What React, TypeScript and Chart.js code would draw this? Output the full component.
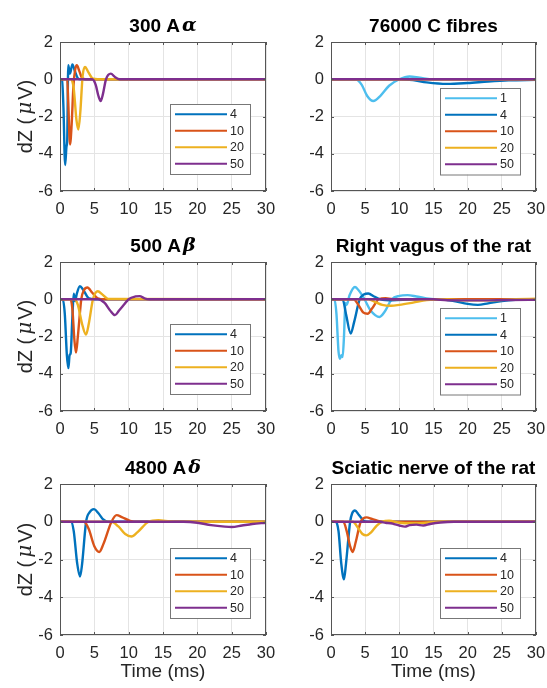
import React, { useEffect, useRef } from 'react';
import { Chart, registerables } from 'chart.js';

Chart.register(...registerables);

const FONT = '"Liberation Sans", Arial, Helvetica, sans-serif';
const BLUE = '#0072BD';
const ORANGE = '#D95319';
const YELLOW = '#EDB120';
const PURPLE = '#7E2F8E';
const LIGHTBLUE = '#4DBEEE';

const xTickValues = [0, 5, 10, 15, 20, 25, 30];
const yTickValues = [-6, -4, -2, 0, 2];
const X_MIN = 0, X_MAX = 30, Y_MIN = -6, Y_MAX = 2;

type Pt = [number, number];
const FLAT: Pt[] = [[0, 0], [30, 0]];

// 300 A-alpha
const alpha4: Pt[] = [[0, 0], [0.3, -0.05], [0.5, -1.5], [0.75, -4.6], [0.95, -3.6], [1.05, -3.3], [1.2, 0.75], [1.45, 0.3], [1.8, 0.8], [2.2, 0.4], [2.6, 0.05], [3, 0], [30, 0]];
const alpha10: Pt[] = [[0, 0], [1.05, 0], [1.2, -1.2], [1.46, -3.5], [1.7, -2.4], [1.95, -0.4], [2.2, 0.5], [2.45, 0.75], [2.8, 0.45], [3.2, 0.08], [3.7, 0], [30, 0]];
const alpha20: Pt[] = [[0, 0], [1.6, 0], [2.0, -0.5], [2.4, -2.2], [2.67, -2.7], [2.95, -1.8], [3.3, 0.2], [3.65, 0.66], [4.1, 0.4], [4.8, 0.03], [5.5, 0], [30, 0]];
const alpha50: Pt[] = [[0, 0], [4.7, 0], [5.2, -0.3], [5.6, -0.9], [5.92, -1.17], [6.25, -0.8], [6.7, 0], [7.4, 0.3], [8, 0.12], [8.7, 0], [30, 0]];

// 76000 C fibres
const cfib1: Pt[] = [[0, 0], [3.6, 0], [4.5, -0.3], [5.3, -0.9], [6.2, -1.17], [7.2, -0.9], [8.5, -0.35], [10, 0], [11.5, 0.15], [13, 0.08], [15, 0], [30, 0]];
const cfib4: Pt[] = [[0, 0], [10, 0], [12, -0.05], [14, -0.17], [17, -0.25], [20, -0.2], [23, -0.12], [26, -0.06], [30, -0.03]];
const cfib10: Pt[] = FLAT;
const cfib20: Pt[] = FLAT;
const cfib50: Pt[] = FLAT;

// 500 A-beta
const beta4: Pt[] = [[0, 0], [0.4, 0], [0.7, -0.8], [1.0, -3.0], [1.22, -3.7], [1.4, -3.0], [1.55, -2.9], [1.8, -1], [2.0, 0.3], [2.2, -0.1], [2.45, 0.3], [2.9, 0.7], [3.4, 0.5], [4.2, 0.05], [5, 0], [30, 0]];
const beta10: Pt[] = [[0, 0], [1.5, 0], [1.8, -0.5], [2.1, -2.2], [2.33, -2.86], [2.6, -2.0], [3.1, 0], [3.5, 0.5], [4.0, 0.63], [4.7, 0.35], [5.5, 0.05], [6.5, 0], [30, 0]];
const beta20: Pt[] = [[0, 0], [2.1, 0], [2.6, -0.3], [3.2, -1.3], [3.78, -1.9], [4.2, -1.3], [4.8, 0], [5.5, 0.43], [6.2, 0.25], [7, 0.02], [30, 0]];
const beta50: Pt[] = [[0, 0], [5.5, 0], [6.5, -0.2], [7.3, -0.6], [8.0, -0.85], [8.6, -0.6], [9.3, -0.3], [10, 0], [11, 0.15], [11.6, 0.17], [12.3, 0.05], [13, 0], [30, 0]];

// Right vagus of the rat
const vagus1: Pt[] = [[0, 0], [0.5, 0], [0.8, -0.8], [1.1, -2.8], [1.32, -3.2], [1.5, -3.0], [1.7, -3.1], [1.9, -2.0], [2.1, -0.2], [2.3, -0.3], [2.7, 0.2], [3.5, 0.66], [4.1, 0.45], [4.9, 0], [5.8, -0.6], [7.1, -0.95], [7.8, -0.7], [8.9, 0], [10, 0.18], [11.2, 0.22], [12.5, 0.15], [14, 0.05], [16, 0], [30, 0]];
const vagus4: Pt[] = [[0, 0], [1.7, 0], [2.2, -0.8], [2.88, -1.84], [3.4, -1.2], [4.2, 0], [4.8, 0.25], [5.46, 0.31], [6.3, 0.15], [7.2, 0], [9, -0.05], [12, 0], [16, 0], [18, -0.1], [20, -0.25], [21.5, -0.3], [23, -0.22], [25, -0.1], [27, -0.03], [30, 0]];
const vagus10: Pt[] = [[0, 0], [3.3, 0], [4.0, -0.3], [4.7, -0.7], [5.37, -0.78], [6.0, -0.5], [7.0, 0], [8, 0.05], [9, 0], [30, 0]];
const vagus20: Pt[] = [[0, 0], [5.5, 0], [6.5, -0.15], [7.5, -0.3], [8.8, -0.35], [10, -0.3], [12, -0.18], [14, -0.05], [16, 0], [20, -0.05], [24, -0.05], [27, 0], [30, 0.03]];
const vagus50: Pt[] = [[0, 0], [15, 0], [17, -0.05], [22, -0.06], [26, -0.04], [30, -0.03]];

// 4800 A-delta
const delta4: Pt[] = [[0, 0], [1.6, 0], [2.0, -0.5], [2.5, -2.2], [2.91, -2.9], [3.2, -2.3], [3.8, 0], [4.3, 0.5], [4.95, 0.67], [5.6, 0.45], [6.3, 0.12], [7, 0], [30, 0]];
const delta10: Pt[] = [[0, 0], [3.5, 0], [4.2, -0.4], [5.0, -1.3], [5.72, -1.6], [6.3, -1.2], [7.5, 0], [8.25, 0.35], [9, 0.25], [10.2, 0.05], [11.5, 0], [30, 0]];
const delta20: Pt[] = [[0, 0], [7.5, 0], [8.5, -0.25], [9.5, -0.65], [10.4, -0.78], [11.3, -0.55], [12.9, 0], [14.3, 0.08], [16, 0.02], [17, 0], [30, 0]];
const delta50: Pt[] = [[0, 0], [18, 0], [20, -0.05], [22, -0.18], [24, -0.26], [25, -0.28], [26.5, -0.2], [28, -0.12], [30, -0.05]];

// Sciatic nerve of the rat
const sciatic4: Pt[] = [[0, 0], [0.7, 0], [1.1, -0.5], [1.5, -2.2], [1.9, -3.05], [2.2, -2.2], [2.8, 0], [3.1, 0.45], [3.5, 0.6], [4.1, 0.35], [5, 0.02], [6, 0], [30, 0]];
const sciatic10: Pt[] = [[0, 0], [1.8, 0], [2.3, -0.5], [2.8, -1.3], [3.17, -1.6], [3.6, -1.1], [4.35, 0], [5.2, 0.23], [6, 0.15], [7.2, 0.02], [8, 0], [30, 0]];
const sciatic20: Pt[] = [[0, 0], [3.2, 0], [4.0, -0.35], [4.6, -0.65], [5.2, -0.72], [5.9, -0.55], [6.7, -0.2], [7.5, 0], [8.5, 0.05], [10, -0.05], [12, -0.08], [14, -0.05], [16, 0], [30, 0]];
const sciatic50: Pt[] = [[0, 0], [7, 0], [8, -0.05], [9, -0.1], [10, -0.2], [10.8, -0.26], [11.5, -0.18], [12.5, -0.15], [13.5, -0.2], [14.5, -0.12], [16, -0.04], [18, 0], [30, 0]];

const labels4 = ['4', '10', '20', '50'];
const labels5 = ['1', '4', '10', '20', '50'];
const colors4 = [BLUE, ORANGE, YELLOW, PURPLE];
const colors5 = [LIGHTBLUE, BLUE, ORANGE, YELLOW, PURPLE];

type Panel = {
  title: string;
  greek: string;
  plot: { l: number; r: number; t: number; b: number };
  yLabel: boolean;
  xLabel: boolean;
  labels: string[];
  colors: string[];
  data: Pt[][];
};

const panels: Panel[] = [
  { title: '300 A', greek: 'α', plot: { l: 60, r: 266, t: 42, b: 191 }, yLabel: true, xLabel: false, labels: labels4, colors: colors4, data: [alpha4, alpha10, alpha20, alpha50] },
  { title: '76000 C fibres', greek: '', plot: { l: 331, r: 536, t: 42, b: 191 }, yLabel: false, xLabel: false, labels: labels5, colors: colors5, data: [cfib1, cfib4, cfib10, cfib20, cfib50] },
  { title: '500 A', greek: 'β', plot: { l: 60, r: 266, t: 262, b: 411 }, yLabel: true, xLabel: false, labels: labels4, colors: colors4, data: [beta4, beta10, beta20, beta50] },
  { title: 'Right vagus of the rat', greek: '', plot: { l: 331, r: 536, t: 262, b: 411 }, yLabel: false, xLabel: false, labels: labels5, colors: colors5, data: [vagus1, vagus4, vagus10, vagus20, vagus50] },
  { title: '4800 A', greek: 'δ', plot: { l: 60, r: 266, t: 484, b: 635 }, yLabel: true, xLabel: true, labels: labels4, colors: colors4, data: [delta4, delta10, delta20, delta50] },
  { title: 'Sciatic nerve of the rat', greek: '', plot: { l: 331, r: 536, t: 484, b: 635 }, yLabel: false, xLabel: true, labels: labels4, colors: colors4, data: [sciatic4, sciatic10, sciatic20, sciatic50] },
];

const W = 547, H = 688;
const Y_AXIS_W = 40, X_AXIS_H = 30;

function PanelChart({ p }: { p: Panel }) {
  const ref = useRef<HTMLCanvasElement>(null);
  useEffect(() => {
    const n = p.data.length;
    const decor = {
      id: 'decor',
      afterDatasetsDraw(chart: any) {
        const ctx = chart.ctx as CanvasRenderingContext2D;
        const a = chart.chartArea;
        const xs = chart.scales.x, ys = chart.scales.y;
        ctx.save();
        // box
        ctx.strokeStyle = '#555';
        ctx.lineWidth = 1;
        ctx.strokeRect(a.left + 0.5, a.top + 0.5, a.right - a.left - 1, a.bottom - a.top - 1);
        // inward ticks
        ctx.beginPath();
        for (const v of xTickValues) {
          const px = Math.round(xs.getPixelForValue(v)) + 0.5;
          ctx.moveTo(px, a.bottom); ctx.lineTo(px, a.bottom - 3);
          ctx.moveTo(px, a.top); ctx.lineTo(px, a.top + 3);
        }
        for (const v of yTickValues) {
          const py = Math.round(ys.getPixelForValue(v)) + 0.5;
          ctx.moveTo(a.left, py); ctx.lineTo(a.left + 3, py);
          ctx.moveTo(a.right, py); ctx.lineTo(a.right - 3, py);
        }
        ctx.stroke();
        // legend
        const rowH = 16.5;
        const bw = 80;
        const bh = n * rowH + 4;
        const bx = Math.round(a.right - 16 - bw);
        const by = Math.round(a.bottom - 17 - bh);
        ctx.fillStyle = '#fff';
        ctx.fillRect(bx, by, bw, bh);
        ctx.strokeStyle = '#777';
        ctx.strokeRect(bx + 0.5, by + 0.5, bw, bh);
        ctx.font = `12.5px ${FONT}`;
        ctx.textBaseline = 'middle';
        ctx.textAlign = 'left';
        for (let i = 0; i < n; i++) {
          const cy = by + 2 + rowH * (i + 0.5);
          ctx.strokeStyle = p.colors[i];
          ctx.lineWidth = 2.2;
          ctx.beginPath();
          ctx.moveTo(bx + 5, cy);
          ctx.lineTo(bx + 57, cy);
          ctx.stroke();
          ctx.fillStyle = '#262626';
          ctx.fillText(p.labels[i], bx + 60, cy + 0.5);
        }
        // title
        const cx = (a.left + a.right) / 2;
        const ty = a.top - 15.5;
        ctx.fillStyle = '#000';
        ctx.textBaseline = 'middle';
        const mainFont = `bold 19px ${FONT}`;
        const greekFont = `italic bold 19px "DejaVu Serif", serif`;
        ctx.font = mainFont;
        const w1 = ctx.measureText(p.title).width;
        ctx.font = greekFont;
        const w2 = p.greek ? ctx.measureText(p.greek).width + 2 : 0;
        const start = cx - (w1 + w2) / 2;
        ctx.textAlign = 'left';
        ctx.font = mainFont;
        ctx.fillText(p.title, start, ty);
        if (p.greek) {
          ctx.font = greekFont;
          ctx.fillText(p.greek, start + w1 + 2, ty);
        }
        // y label
        if (p.yLabel) {
          ctx.save();
          ctx.translate(26, (a.top + a.bottom) / 2);
          ctx.rotate(-Math.PI / 2);
          ctx.fillStyle = '#262626';
          ctx.textBaseline = 'middle';
          const parts: [string, string, number][] = [['dZ (', `20px ${FONT}`, 3], ['μ', `italic 20px "DejaVu Serif", serif`, 2], ['V)', `20px ${FONT}`, 0]];
          let tw = 0;
          for (const [s, f, g] of parts) { ctx.font = f; tw += ctx.measureText(s).width + g; }
          let x0 = -tw / 2;
          for (const [s, f, g] of parts) { ctx.font = f; ctx.fillText(s, x0, 0); x0 += ctx.measureText(s).width + g; }
          ctx.restore();
        }
        if (p.xLabel) {
          ctx.fillStyle = '#262626';
          ctx.font = `19px ${FONT}`;
          ctx.textAlign = 'center';
          ctx.fillText('Time (ms)', cx, a.bottom + 37);
        }
        ctx.restore();
      },
    };
    const chart = new Chart(ref.current as HTMLCanvasElement, {
      type: 'line',
      data: {
        datasets: p.data.map((d, i) => ({
          label: p.labels[i],
          data: d.map(([x, y]) => ({ x, y })),
          borderColor: p.colors[i],
          backgroundColor: p.colors[i],
          borderWidth: 2.4,
          pointRadius: 0,
          fill: false,
          cubicInterpolationMode: 'monotone' as const,
          order: n - 1 - i,
        })),
      },
      options: {
        animation: false,
        responsive: false,
        events: [],
        layout: {
          padding: { left: p.plot.l - Y_AXIS_W, right: W - p.plot.r, top: p.plot.t, bottom: H - p.plot.b - X_AXIS_H },
        },
        plugins: { legend: { display: false }, tooltip: { enabled: false }, title: { display: false } },
        scales: {
          x: {
            type: 'linear',
            min: X_MIN,
            max: X_MAX,
            afterBuildTicks: (s: any) => { s.ticks = xTickValues.map((v) => ({ value: v })); },
            afterFit: (s: any) => { s.height = X_AXIS_H; s.paddingLeft = 0; s.paddingRight = 0; },
            ticks: { color: '#262626', font: { family: FONT, size: 16.5 }, padding: 9, maxRotation: 0, autoSkip: false },
            grid: { color: '#e4e4e4', lineWidth: 1, drawTicks: false },
            border: { display: false },
          },
          y: {
            type: 'linear',
            min: Y_MIN,
            max: Y_MAX,
            afterBuildTicks: (s: any) => { s.ticks = yTickValues.map((v) => ({ value: v })); },
            afterFit: (s: any) => { s.width = Y_AXIS_W; s.paddingTop = 0; s.paddingBottom = 0; },
            ticks: { color: '#262626', font: { family: FONT, size: 16.5 }, padding: 7, autoSkip: false },
            grid: { color: '#e4e4e4', lineWidth: 1, drawTicks: false },
            border: { display: false },
          },
        },
      } as any,
      plugins: [decor],
    });
    return () => chart.destroy();
  }, [p]);
  return <canvas ref={ref} width={W} height={H} style={{ position: 'absolute', left: 0, top: 0 }} />;
}

export default function App() {
  return (
    <div style={{ position: 'absolute', left: 0, top: 0, width: W, height: H, background: '#fff' }}>
      {panels.map((p, i) => (
        <PanelChart key={i} p={p} />
      ))}
    </div>
  );
}
